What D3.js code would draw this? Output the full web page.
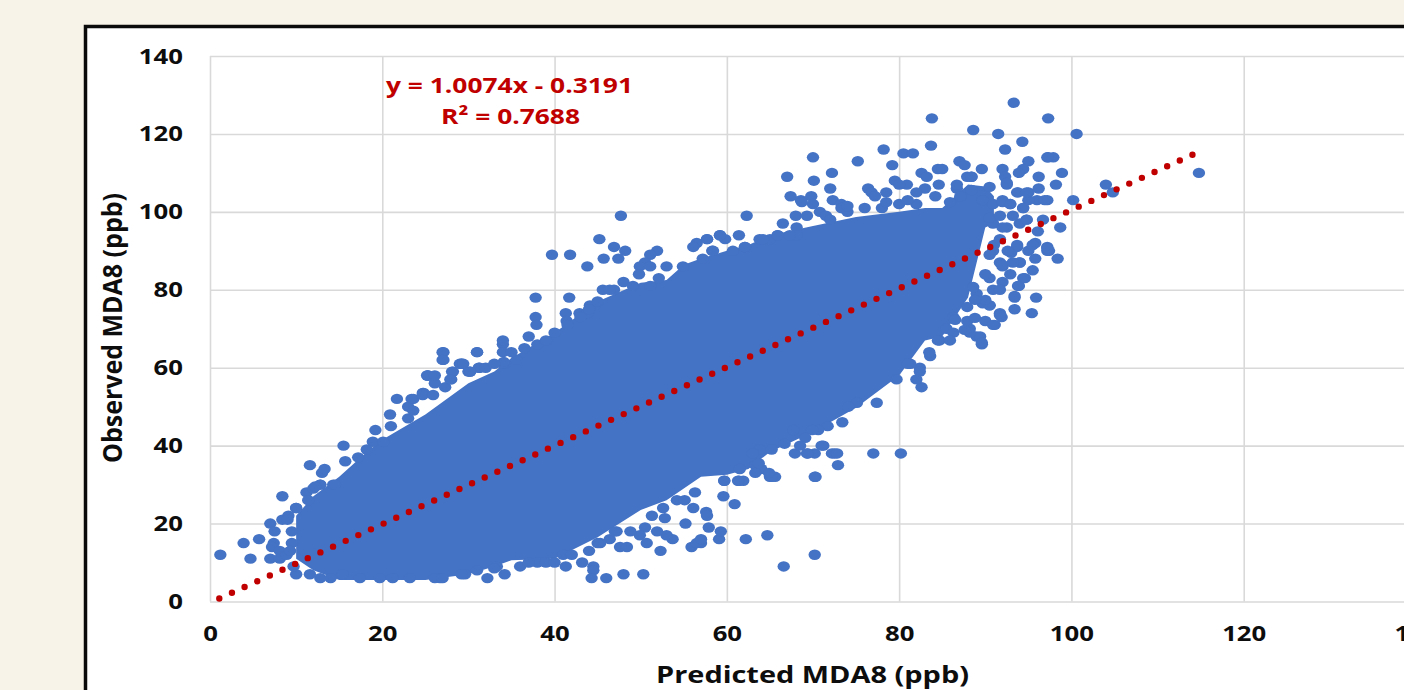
<!DOCTYPE html>
<html>
<head>
<meta charset="utf-8">
<script src="https://cdn.jsdelivr.net/npm/d3@7"></script>
<style>
    html, body { margin: 0; padding: 0; background: #f8f3e9; overflow: hidden; }
    svg { display: block; }
    text { font-family: "Open Sans", sans-serif; font-weight: 700; fill: #0d0d0d; }
</style>
</head>
<body>
<svg id="scatter"></svg>
<script>
const xTicks = [0, 20, 40, 60, 80, 100, 120, 140];
const yTicks = [0, 20, 40, 60, 80, 100, 120, 140];

const corePredicted = [10, 12, 15, 18, 20, 25, 30, 33, 35, 40, 45, 50, 53, 55, 57, 60, 62.5, 65, 70, 75, 80, 83, 85, 88, 90, 91];
const coreLow = [11, 8, 5.5, 5.5, 5.5, 5.5, 7, 9, 10.6, 11, 16.5, 23.5, 26, 29, 32, 32.5, 34, 38.4, 43.5, 49.7, 58, 67, 68, 78, 96, 97];
const coreHigh = [22, 27, 32, 38, 41.5, 48, 56, 59, 62.5, 69, 77, 81.8, 82.5, 86.4, 88, 90, 91.5, 94, 96.4, 98.7, 100, 101, 101, 107, 106.5, 104];

/* Points that can be told apart around the edge of the cloud */
const predicted = [
    1.2, 3.9, 5.7, 4.7, 7.0, 8.1, 7.4, 7.2, 8.1, 7, 7.5, 8.4, 8.4, 11.6, 13, 13.3, 15.5, 15.7, 11.2, 12.8,
    12, 10, 14.3, 17.2, 19.2, 20.9, 21.7, 23.4, 23, 25.2, 24.7, 21, 10, 11.6, 12.8, 14, 15.4, 17.4, 19.7, 21.2,
    23.2, 9.7, 8.9, 26.7, 29.6, 32.2, 34.2, 27.1, 27.1, 31, 34, 34, 29.2, 28.2, 31.3, 30.2, 25.3, 26.1, 28, 27.3,
    23.6, 24.8, 34.2, 35.6, 29.2, 26.1, 27, 31, 33.3, 38, 41.3, 43.2, 44.5, 44.5, 44.3, 46, 48, 50.3, 47.6, 48.4,
    50.7, 52.3, 55.9, 57, 56.5, 57, 59.1, 59.3, 57.9, 55.2, 62.2, 53.7, 53, 51.9, 50.5, 49.9, 48.8, 47.2, 46.4, 45.3,
    52.8, 51.3, 56.1, 57.6, 57.7, 54.2, 55.1, 56.3, 59.7, 59.6, 60.9, 61.4, 52.6, 66.6, 70.2, 64.7, 80.2, 77, 72.9, 70.2,
    70.2, 72.5, 69.4, 67.9, 65, 65.6, 71.2, 66.7, 63.3, 64, 61.9, 93.3, 83.8, 97.3, 88.6, 91.5, 94.3, 83.7, 92.3, 78.2,
    80.5, 81.6, 70, 75.2, 79.2, 87, 87.6, 95, 97.3, 84.5, 85, 89.6, 92, 94.4, 93.9, 67, 72.2, 82.6, 83.2, 70.1,
    88.4, 96.2, 79.5, 80.9, 80, 72, 76.4, 76.8, 77.2, 84.6, 83, 82, 78.5, 67.4, 68.6, 69.8, 70, 72.3, 73.3, 73.3,
    96.2, 92.5, 92.3, 95, 93.7, 97.2, 96, 95, 92, 94.4, 92.9, 84.2, 62.3, 66.5, 68, 69.3, 68.1, 70.8, 71.5, 61.4,
    59.2, 59.8, 57.7, 65.9, 63.8, 65, 62.1, 58.3, 96.7, 95.5, 95.9, 93.4, 95.4, 91.9, 90, 91.1, 89.6, 89, 88.2, 87.9,
    93.4, 94.4, 93.9, 92, 92.9, 94, 92, 95.8, 97.2, 95.8, 96.1, 94.8, 90.5, 91.7, 83.6, 84.7, 82.4, 81.3, 90.5, 90.9,
    89.7, 91.7, 93, 95, 93.7, 90.9, 92.5, 90.9, 94, 89, 87.9, 86.3, 85.5, 88.6, 90.9, 89.7, 88.4, 86.7, 90.5, 87.1,
    85.9, 100.6, 114.8, 104, 104.8, 100.2, 98.9, 98.2, 96.9, 97.9, 97.2, 98.7, 98.4, 97.2, 97.4, 47.7, 45.2, 46.9, 48.2, 39.7,
    41.8, 45.7, 47.4, 43.8, 51.9, 51.1, 50.5, 49.9, 51.1, 49.8, 53, 56.5, 56.1, 57.7, 48, 52.1, 45.6, 46.9, 37.8, 41.7,
    44.1, 45, 41.3, 42.9, 43.8, 37.8, 37.9, 41.4, 37, 34, 31, 27, 27, 29.2, 34, 31.2, 28.1, 25.3, 26.1, 30,
    27.9,
    82.6, 82, 82.4, 81, 83.5, 84.5, 86.3, 77.4, 79.7, 75.1, 74.1, 73.4, 71.7, 70.6, 69.9, 67.7, 69.1, 68.5, 71, 69.3,
    72.2, 72.8, 70.3, 65.2, 64.9, 63.3, 63.7, 61.3, 59.7, 61.5, 65.2, 63.8, 63,
    46.4, 49.1, 51.1, 54.9, 57.2, 58.4, 60.7, 62.1, 64.2, 65.9, 68.1, 67.3, 59.2, 68.7, 73.4,
    18.9, 20.1, 18.2, 23, 23.6, 24.7, 25.9, 29, 29.4, 30.2, 34.1, 12.8, 12.2, 11.4, 10, 9.1, 14.5,
    86.7, 87.9, 88.4, 92.5, 93.8, 94.8, 92, 92.9, 94.4, 94.8, 93.2, 92, 93.7, 95.5, 97.2, 94, 92, 94.6, 93.8, 93.4,
    91.7, 90.9, 89.4, 89.6, 88.2, 90.5, 88.8, 90.5, 91, 91.7, 90, 90, 88.8, 91.7, 90.5, 91.7, 87.6, 86.5, 85.9, 92.6,
    93.2,
    32, 33, 35, 36.5, 38, 39, 40, 41.5, 43, 44, 36, 37, 39, 40, 33, 41, 42, 44, 45, 47,
    72, 74, 76, 78, 80, 82, 74, 78.5, 81, 9.5, 9.5, 9, 9.3
];
const observed = [
    12, 15, 16, 11, 11, 11, 15, 14, 13, 20, 18, 21, 27, 35, 33, 34, 40, 36, 28, 30,
    29, 24, 30, 37, 44, 48, 52, 52, 50, 58, 53.5, 45, 7, 7, 6, 6, 7, 6, 6, 6,
    6, 9, 12, 6, 7, 6, 7, 64, 62, 64, 66, 64, 61, 59, 60, 59, 58, 56, 57, 55,
    52, 53.5, 61, 62, 7, 6, 6, 8, 9, 10, 9, 10, 9, 8, 6, 6, 7, 7, 14, 14,
    15, 13, 14, 15, 15, 16, 16, 18, 19, 20, 16, 16, 17, 18, 19, 17, 18, 18, 16, 15,
    21.4, 22, 24, 23, 22, 26, 26, 28, 31, 27, 25, 31, 24, 9, 12, 17, 38, 38, 35, 32,
    38, 38, 38, 38, 32, 32, 40, 40.5, 35, 34, 31, 128, 124, 124, 121, 120, 118, 117, 116, 116,
    115, 115, 114, 113, 112, 113, 112, 113, 114, 111, 111, 111, 111, 111, 110, 109, 110, 110, 109, 108,
    109, 109, 108, 107, 107, 106, 106, 105, 104, 107, 106, 105, 105, 104, 103, 104, 102, 103, 102, 101,
    106, 107, 109, 105, 105, 103, 103, 103, 103, 101, 102, 104, 99, 97, 99, 99, 96, 100, 99, 94,
    94, 93, 93, 94, 93, 93, 91, 90, 98, 85, 78, 75, 74, 73, 72, 71, 66, 68, 70, 72,
    78, 83, 81, 82, 84, 87, 86, 88, 90, 92, 95, 98, 76, 74, 63, 67, 60, 61, 83, 80,
    76.5, 87, 89.5, 90, 91, 90, 96, 97, 97, 79, 75.6, 73, 70, 80.7, 102, 103, 105.6, 106, 106.4, 104,
    102.5, 120, 110, 107, 105, 103, 110, 107, 103, 114, 114, 96, 88, 91, 90, 99, 93, 91, 90, 89,
    89, 88, 88, 86, 90, 89, 87, 86, 86, 84, 86, 92, 91, 93, 82, 83, 80, 80, 78, 78,
    76, 77, 74, 74, 74, 73, 71, 72, 68, 67, 64, 64, 62, 61, 61, 60, 59, 58, 58, 59,
    57,
    55, 57, 59, 61, 64, 67, 69, 51, 57, 51, 50, 46, 45, 44, 44, 44, 42, 40, 40, 38,
    38, 38, 32, 32, 33, 33, 35.5, 31, 31, 34, 39, 39, 38,
    80, 81, 81, 86, 88, 90, 90, 91, 93, 94, 94, 94, 94, 102.5, 101,
    41, 41, 39, 47, 49, 53, 53, 61, 61, 59, 61.5, 30, 29.5, 26, 24, 22, 30,
    107, 109, 109, 107.4, 105, 105, 102.5, 102, 101, 98, 99, 96, 91.5, 91.5, 90.7, 87, 86.4, 83, 81, 78.4,
    73.5, 71, 68, 66.4, 69, 76, 72.8, 89, 91.5, 80, 84, 77.4, 77.4, 93, 98.5, 99, 69.7, 72.3, 67, 90,
    87,
    60, 61, 64, 65, 66, 67, 69, 71, 73, 75, 9, 10, 10, 10, 8.5, 12, 12, 13, 15, 18,
    98, 100, 101, 101, 102, 102, 101.5, 102.5, 103, 15, 18, 21, 13
];

/* Ends of the dotted trendline: y = 1.0074x - 0.3191 */
const trendPredicted = [1.08, 114.1];
const trendObserved = [0.77, 114.7];

let svgWidth = 1404;
let svgHeight = 690;

let svg = d3.select("svg#scatter")
    .attr("width", svgWidth)
    .attr("height", svgHeight);

/* White panel with the heavy black frame, runs off the right and bottom */
svg.append("rect")
    .attr("x", 85.5)
    .attr("y", 26.5)
    .attr("width", 1400)
    .attr("height", 720)
    .attr("fill", "#ffffff")
    .attr("stroke", "#0a0a0a")
    .attr("stroke-width", 3.5);

let xScale = d3.scaleLinear().domain([0, 140]).range([210, 1416]);
let yScale = d3.scaleLinear().domain([0, 140]).range([601.5, 56]);

/* Tick text is wide in the reference, so stretch it with a horizontal scale */
let tickStretch = 1.17;

let xAxis = d3.axisBottom(xScale)
    .tickValues(xTicks)
    .tickSize(yScale(140) - yScale(0))
    .tickPadding(0);
let yAxis = d3.axisLeft(yScale)
    .tickValues(yTicks)
    .tickSize(-(xScale(140) - xScale(0)))
    .tickPadding(0);

let xAxisG = svg.append("g")
    .attr("transform", "translate(0," + yScale(0) + ")")
    .call(xAxis);
let yAxisG = svg.append("g")
    .attr("transform", "translate(" + xScale(0) + ",0)")
    .call(yAxis);

d3.selectAll("path.domain").remove();
svg.selectAll(".tick line").attr("stroke", "#d9d9d9").attr("stroke-width", 1.6);

xAxisG.selectAll(".tick text")
    .attr("y", 24)
    .attr("dy", "0.71em")
    .attr("transform", "scale(" + tickStretch + ",1)")
    .style("font-size", "22px");
yAxisG.selectAll(".tick text")
    .attr("x", -27 / tickStretch)
    .attr("transform", "scale(" + tickStretch + ",1)")
    .style("font-size", "22px");

function stretchedText(x, y, content, length, size, color) {
    return svg.append("text")
        .attr("x", x)
        .attr("y", y)
        .attr("textLength", length)
        .attr("lengthAdjust", "spacingAndGlyphs")
        .style("font-size", size + "px")
        .style("fill", color)
        .text(content);
}

stretchedText(386, 93, "y = 1.0074x - 0.3191", 247, 22, "#c00000");
stretchedText(441, 124, "R² = 0.7688", 139, 22, "#c00000");
stretchedText(656, 683, "Predicted MDA8 (ppb)", 313, 24, "#0d0d0d");

svg.append("text")
    .attr("transform", "translate(122,463)rotate(-90)")
    .attr("textLength", 270)
    .attr("lengthAdjust", "spacingAndGlyphs")
    .style("font-size", "26px")
    .text("Observed MDA8 (ppb)");

/* Cloud: solid part first, then single points on top */
let coreArea = d3.area()
    .x(d => xScale(d))
    .y0((d, i) => yScale(coreLow[i]))
    .y1((d, i) => yScale(coreHigh[i]));

svg.append("path")
    .attr("d", coreArea(corePredicted))
    .attr("fill", "#4472c4");

svg.append("g")
    .selectAll("ellipse")
    .data(predicted)
    .join("ellipse")
    .attr("cx", d => xScale(d))
    .attr("cy", (d, i) => yScale(observed[i]))
    .attr("rx", 6.2)
    .attr("ry", 5.2)
    .attr("fill", "#4472c4");

/* Dotted trendline */
let trendLine = d3.line()
    .x(d => xScale(d))
    .y((d, i) => yScale(trendObserved[i]));

svg.append("path")
    .attr("d", trendLine(trendPredicted))
    .attr("fill", "none")
    .attr("stroke", "#c00000")
    .attr("stroke-width", 6.4)
    .attr("stroke-linecap", "round")
    .attr("stroke-dasharray", "0 13.89");
</script>
</body>
</html>
